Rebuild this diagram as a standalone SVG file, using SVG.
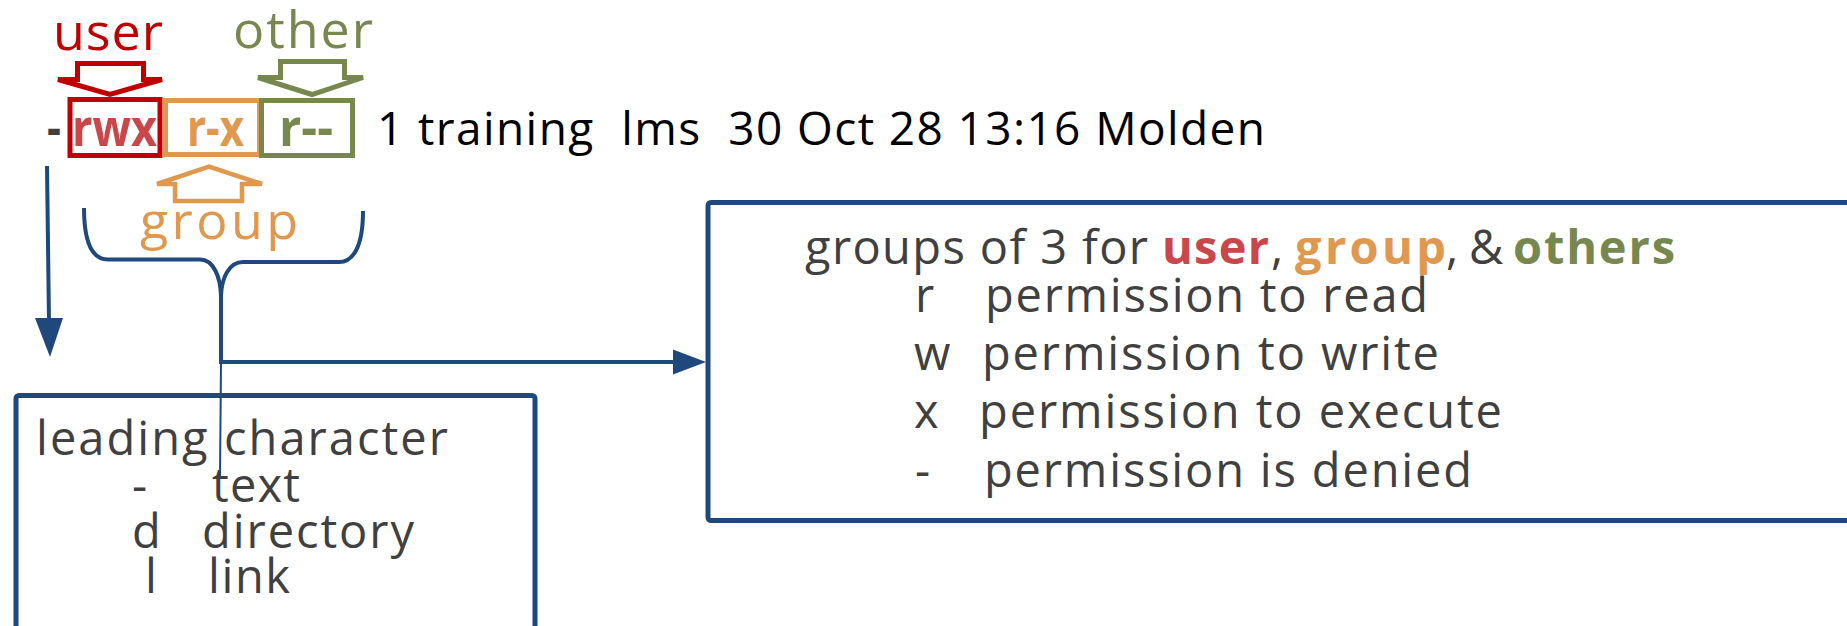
<svg xmlns="http://www.w3.org/2000/svg" width="1847" height="626" viewBox="0 0 1847 626">
<style>
  text { font-family: "Open Sans", "Liberation Sans", sans-serif; }
  .body { font-size: 47px; fill: #404040; }
  .lbl { font-size: 52px; }
  .bold { font-weight: bold; }
  .red { fill: #C9474A; }
  .orange { fill: #E0984F; }
  .green { fill: #77884F; }
  .conn { stroke: #1F497D; stroke-width: 4; fill: none; }
  .box { stroke: #1F497D; stroke-width: 5; fill: none; }
</style>
<rect width="1847" height="626" fill="#ffffff"/>

<g id="perm-string">
  <text x="47" y="146" class="lbl bold" fill="#404040" textLength="14" lengthAdjust="spacingAndGlyphs">-</text>
  <rect x="70" y="99.5" width="90" height="56" fill="none" stroke="#C00000" stroke-width="5"/>
  <rect x="165.5" y="100.5" width="94" height="54" fill="none" stroke="#E0984F" stroke-width="5"/>
  <rect x="261.5" y="100.5" width="91" height="55" fill="none" stroke="#77884F" stroke-width="5"/>
  <text x="72" y="146" class="lbl bold red" textLength="85" lengthAdjust="spacingAndGlyphs">rwx</text>
  <text x="187" y="146" class="lbl bold orange" textLength="57" lengthAdjust="spacingAndGlyphs">r-x</text>
  <text x="279" y="146" class="lbl bold green" textLength="54" lengthAdjust="spacingAndGlyphs">r--</text>
  <text x="377" y="145" font-size="46" fill="#000000" style="white-space:pre" textLength="888">1 training  lms  30 Oct 28 13:16 Molden</text>
</g>

<g id="user-label">
  <text x="53" y="50" class="lbl" fill="#C00000" textLength="110">user</text>
  <polygon points="77.5,63.5 143.5,63.5 143.5,79.5 162,79.5 110,94.5 58,79.5 77.5,79.5" fill="#ffffff" stroke="#C00000" stroke-width="5" stroke-linejoin="miter"/>
</g>

<g id="other-label">
  <text x="233" y="48" class="lbl green" textLength="140">other</text>
  <polygon points="280.5,61.5 344.5,61.5 344.5,77.5 363,77.5 312,94.5 258,77.5 280.5,77.5" fill="#ffffff" stroke="#77884F" stroke-width="5" stroke-linejoin="miter"/>
</g>

<g id="group-label">
  <polygon points="175,201 242,201 242,184 262,184 209,166.5 157,184 175,184" fill="#ffffff" stroke="#E0984F" stroke-width="4.5" stroke-linejoin="miter"/>
  <text x="140" y="239" class="lbl orange" textLength="158">group</text>
</g>

<g id="leading-box">
  <rect x="16" y="395.5" width="519" height="300" rx="3" class="box"/>
  <text x="36" y="455" class="body" textLength="412">leading character</text>
  <text x="132" y="502" class="body">-</text>
  <text x="212" y="502" class="body" textLength="88">text</text>
  <text x="132" y="548" class="body">d</text>
  <text x="202" y="548" class="body" textLength="212">directory</text>
  <text x="145" y="593" class="body">l</text>
  <text x="208" y="593" class="body" textLength="82">link</text>
</g>

<g id="groups-box">
  <rect x="708" y="202.5" width="1200" height="318" rx="3" class="box"/>
  <text y="264" class="body">
    <tspan x="805" textLength="343">groups of 3 for</tspan><tspan x="1162" class="bold red" textLength="107">user</tspan><tspan x="1271">,</tspan><tspan x="1295" class="bold orange" textLength="151">group</tspan><tspan x="1446">,</tspan><tspan x="1469">&amp;</tspan><tspan x="1513" class="bold green" textLength="162">others</tspan>
  </text>
  <text x="915" y="312" class="body">r</text>
  <text x="985" y="312" class="body" textLength="443">permission to read</text>
  <text x="914" y="370" class="body">w</text>
  <text x="982" y="370" class="body" textLength="457">permission to write</text>
  <text x="914" y="428" class="body">x</text>
  <text x="979" y="428" class="body" textLength="523">permission to execute</text>
  <text x="915" y="487" class="body">-</text>
  <text x="984" y="487" class="body" textLength="488">permission is denied</text>
</g>

<g id="connectors">
  <line x1="47" y1="166" x2="49" y2="322" class="conn"/>
  <polygon points="35,318 63,318 50,357" fill="#1F497D"/>
  <path d="M84,208 C84,246 94,259.5 108,259.5 L200,259.5 C214,259.5 220.5,278 221,296" class="conn"/>
  <path d="M363,211 C363,249 352,262 339,262 L243,262 C229,262 221.5,278 221,296" class="conn"/>
  <line x1="221" y1="288" x2="221" y2="362" class="conn"/>
  <line x1="221" y1="362" x2="220" y2="477" stroke="#1F497D" stroke-width="2"/>
  <line x1="219" y1="362" x2="676" y2="362" class="conn"/>
  <polygon points="673,349.5 706,362 673,374.5" fill="#1F497D"/>
</g>
</svg>
